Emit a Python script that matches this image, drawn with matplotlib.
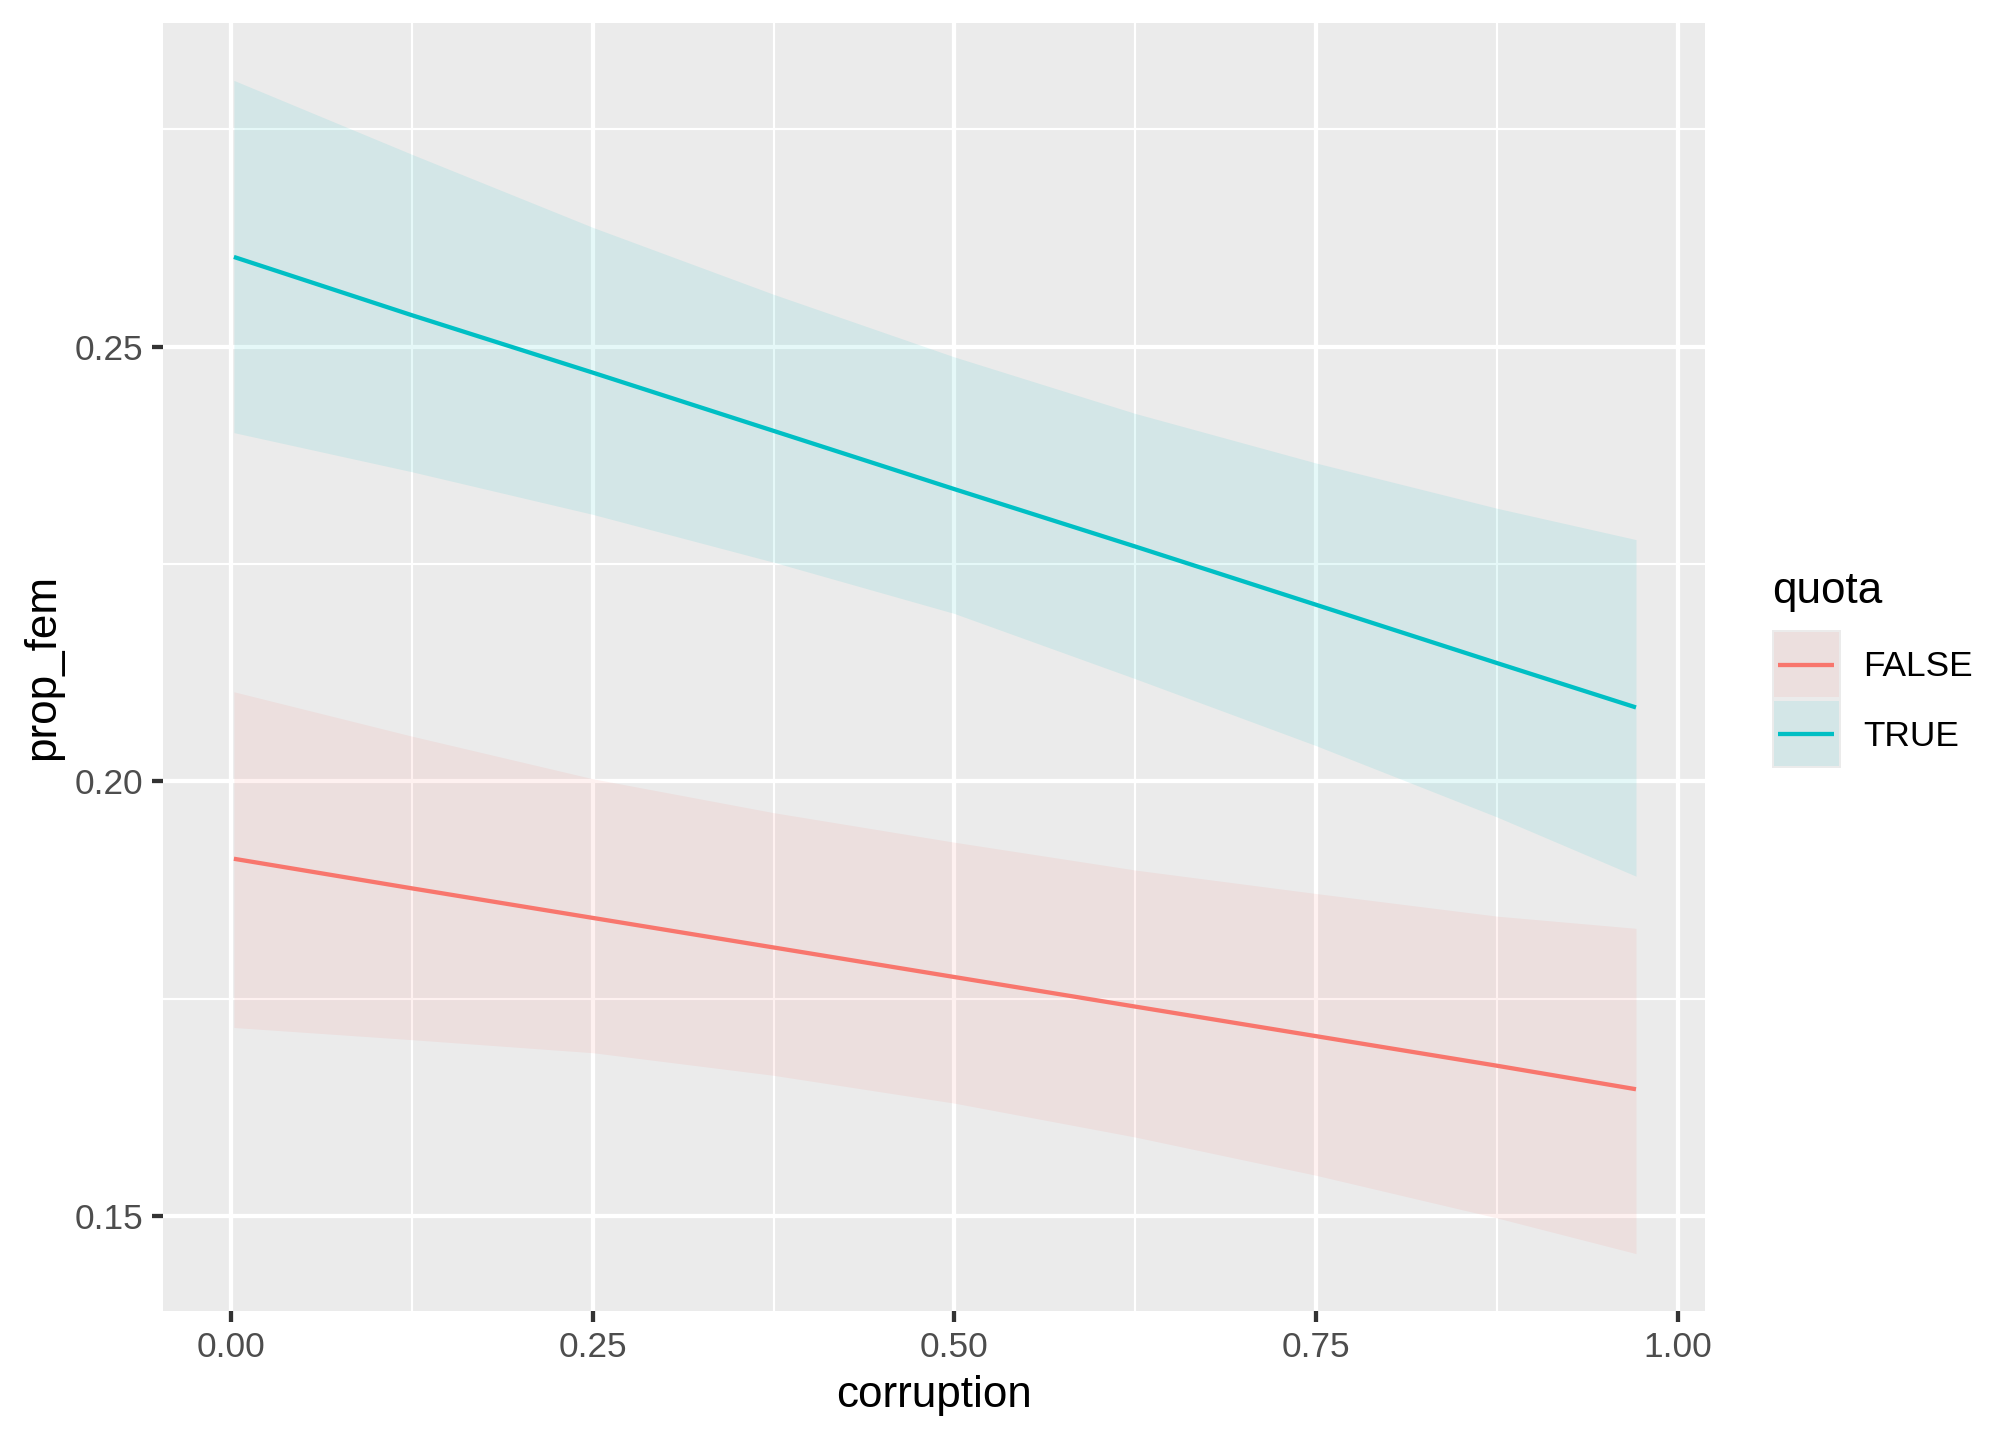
import matplotlib
matplotlib.use("Agg")
import matplotlib.pyplot as plt
from matplotlib.patches import Rectangle
from matplotlib.lines import Line2D

plt.rcParams['font.family'] = ['Liberation Sans', 'DejaVu Sans']

# ---- data ----
corruption = [0.002, 0.125, 0.25, 0.375, 0.5, 0.625, 0.75, 0.875, 0.971]
false_fit = [0.1911, 0.1877, 0.1843, 0.1809, 0.1775, 0.1741, 0.1707, 0.1673, 0.1646]
false_lo = [0.1717, 0.1703, 0.1688, 0.1662, 0.1630, 0.1591, 0.1547, 0.1498, 0.1457]
false_hi = [0.2103, 0.2052, 0.2003, 0.1964, 0.1930, 0.1898, 0.1871, 0.1845, 0.1831]
true_fit = [0.2603, 0.2536, 0.2470, 0.2403, 0.2336, 0.2270, 0.2203, 0.2136, 0.2085]
true_lo = [0.2401, 0.2356, 0.2307, 0.2252, 0.2193, 0.2118, 0.2041, 0.1959, 0.1891]
true_hi = [0.2806, 0.2721, 0.2637, 0.2560, 0.2488, 0.2423, 0.2366, 0.2314, 0.2278]
groups = ["FALSE", "TRUE"]
colors = ["#F8766D", "#00BFC4"]
x_ticks = [0.0, 0.25, 0.5, 0.75, 1.0]
x_tick_labels = ["0.00", "0.25", "0.50", "0.75", "1.00"]
y_ticks = [0.15, 0.20, 0.25]
y_tick_labels = ["0.15", "0.20", "0.25"]

W, H = 2016, 1440
fig = plt.figure(figsize=(7, 5), dpi=288)
ax = fig.add_axes([163 / W, 1 - 1311 / H, (1705 - 163) / W, (1311 - 23) / H])
ax.set_facecolor("#EBEBEB")
for s in ax.spines.values():
    s.set_visible(False)

ax.set_xlim(-0.047, 1.0187)
ax.set_ylim(0.1391, 0.2872)

# grid
for v in [0.125, 0.375, 0.625, 0.875]:
    ax.axvline(v, color="white", lw=0.53, zorder=0.5)
for v in [0.175, 0.225, 0.275]:
    ax.axhline(v, color="white", lw=0.53, zorder=0.5)
for v in x_ticks:
    ax.axvline(v, color="white", lw=1.07, zorder=0.6)
for v in y_ticks:
    ax.axhline(v, color="white", lw=1.07, zorder=0.6)

data = [(false_fit, false_lo, false_hi), (true_fit, true_lo, true_hi)]
for (fit, lo, hi), c in zip(data, colors):
    ax.fill_between(corruption, lo, hi, color=c, alpha=0.1, lw=0, zorder=1)
for (fit, lo, hi), c in zip(data, colors):
    ax.plot(corruption, fit, color=c, lw=1.07, zorder=2, solid_capstyle="butt")

ax.set_xticks(x_ticks)
ax.set_xticklabels(x_tick_labels)
ax.set_yticks(y_ticks)
ax.set_yticklabels(y_tick_labels)
ax.tick_params(axis="both", length=2.75, width=1.07, color="#333333",
               labelsize=8.8, labelcolor="#4D4D4D", pad=2.2)
ax.set_xlabel("corruption", fontsize=11, color="black", labelpad=2.75)
ax.set_ylabel("prop_fem", fontsize=11, color="black", labelpad=2.75)

# legend (manual, ggplot style)
def fx(px):
    return px / W

def fy(py):
    return 1 - py / H

fig.text(fx(1772), fy(592), "quota", fontsize=11, ha="left", va="center")
key_x0, key_x1 = 1772, 1841
key_tops = [630, 699]
for top, c, lab in zip(key_tops, colors, groups):
    fig.patches.append(Rectangle((fx(key_x0), fy(top + 69)), fx(key_x1) - fx(key_x0), 69 / H,
                                 transform=fig.transFigure, facecolor="#EBEBEB", edgecolor="none"))
    fig.patches.append(Rectangle((fx(key_x0 + 2), fy(top + 67)), fx(key_x1 - 2) - fx(key_x0 + 2), 65 / H,
                                 transform=fig.transFigure, facecolor=c, alpha=0.1, edgecolor="none"))
    fig.lines.append(Line2D([fx(1778), fx(1834)], [fy(top + 34.5)] * 2, transform=fig.transFigure,
                            color=c, lw=1.07, solid_capstyle="butt"))
    fig.text(fx(1863), fy(top + 37), lab, fontsize=8.8, ha="left", va="center")

fig.savefig("out.png", dpi=288)
